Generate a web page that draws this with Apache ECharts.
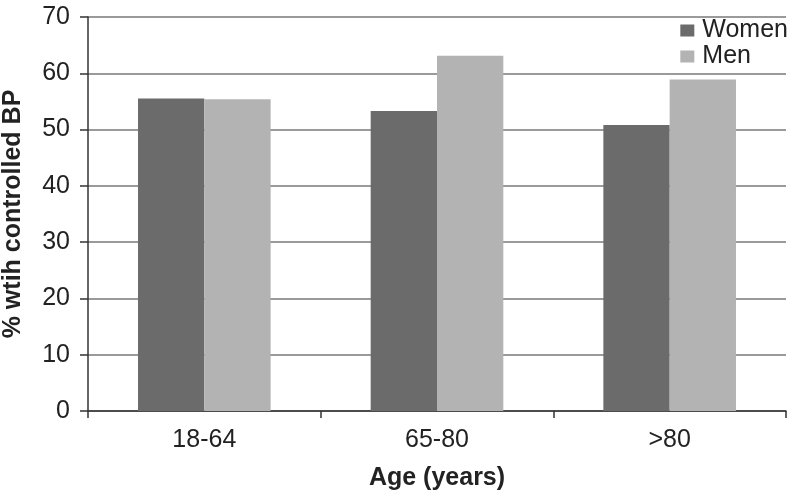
<!DOCTYPE html>
<html>
<head>
<meta charset="utf-8">
<script src="https://cdn.jsdelivr.net/npm/echarts@6/dist/echarts.min.js"></script>
<style>
  html, body { margin: 0; padding: 0; background: #fff; }
  #chart { width: 791px; height: 495px; }
</style>
</head>
<body>
<div id="chart"></div>
<script>
var categories = ['18-64', '65-80', '>80']
var women = [55.5, 53.3, 50.8]
var men = [55.4, 63.1, 58.9]
var yTicks = { min: 0, max: 70, interval: 10 }

var chart = echarts.init(document.getElementById('chart'))
var font = 'Liberation Sans, Arial, sans-serif'

chart.setOption({
  animation: false,
  legend: {
    orient: 'vertical',
    right: 3,
    top: 18,
    padding: 0,
    itemWidth: 14,
    itemHeight: 12,
    itemGap: 1,
    icon: 'rect',
    textStyle: { fontFamily: font, fontSize: 25, color: '#222', padding: [0, 0, 0, 3] },
    data: ['Women', 'Men']
  },
  grid: {
    left: 88,
    right: 5,
    top: 17,
    bottom: 84,
    containLabel: false,
    outerBoundsMode: 'none'
  },
  xAxis: {
    type: 'category',
    data: categories,
    name: 'Age (years)',
    nameLocation: 'middle',
    nameGap: 55,
    nameTextStyle: { fontFamily: font, fontSize: 25, fontWeight: 'bold', color: '#222' },
    axisLine: { lineStyle: { color: '#333', width: 1.5 } },
    axisTick: { show: true, length: 7, lineStyle: { color: '#333', width: 1.5 } },
    axisLabel: { fontFamily: font, fontSize: 25, color: '#222', margin: 17 }
  },
  yAxis: {
    type: 'value',
    min: yTicks.min,
    max: yTicks.max,
    interval: yTicks.interval,
    name: '% wtih controlled BP',
    nameLocation: 'middle',
    nameGap: 62,
    nameTextStyle: { fontFamily: font, fontSize: 25, fontWeight: 'bold', color: '#222' },
    axisLine: { show: true, lineStyle: { color: '#333', width: 1.5 } },
    axisTick: { show: true, length: 8, lineStyle: { color: '#333', width: 1.5 } },
    axisLabel: { fontFamily: font, fontSize: 25, color: '#222', margin: 18 },
    splitLine: { lineStyle: { color: '#9a9a9a', width: 2 } }
  },
  series: [
    {
      name: 'Women',
      type: 'bar',
      barWidth: '28.5%',
      barGap: '0%',
      itemStyle: { color: '#6b6b6b' },
      data: women
    },
    {
      name: 'Men',
      type: 'bar',
      barWidth: '28.5%',
      barGap: '0%',
      itemStyle: { color: '#b3b3b3' },
      data: men
    }
  ]
})
</script>
</body>
</html>
